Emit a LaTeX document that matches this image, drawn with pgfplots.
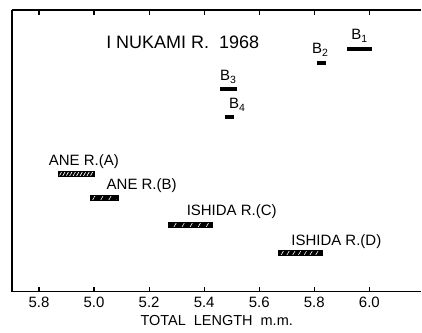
\documentclass[border=0pt]{standalone}
\usepackage{fontspec}
\setmainfont{Liberation Sans}
\usepackage{pgfplots}
\pgfplotsset{compat=1.18}
\usetikzlibrary{patterns.meta}
\begin{document}
\begin{tikzpicture}
\begin{axis}[
  scale only axis, width=410pt, height=282pt,
  xmin=4.702, xmax=6.189, ymin=0, ymax=282,
  axis x line=box, axis y line*=left,
  ytick=\empty,
  xtick={4.8,5.0,5.2,5.4,5.6,5.8,6.0},
  xticklabels={5.8,5.0,5.2,5.4,5.6,5.8,6.0},
  tick align=inside, major tick length=5pt,
  every tick/.style={black, line width=1.2pt},
  axis line style={line width=1.2pt},
  clip=false,
  /pgf/number format/assume math mode=true,
  xticklabel style={font=\fontsize{15}{17}\selectfont, yshift=-2pt},
  xlabel={TOTAL\ \ LENGTH\ \ m.m.},
  xlabel style={font=\fontsize{14.5}{16}\selectfont, yshift=-1pt},
]
% solid bars (B1-B4)
\addplot[fill=black, draw=none] coordinates {(5.92,241) (6.01,241) (6.01,245) (5.92,245)} -- cycle;
\addplot[fill=black, draw=none] coordinates {(5.808,227) (5.841,227) (5.841,231) (5.808,231)} -- cycle;
\addplot[fill=black, draw=none] coordinates {(5.456,201) (5.518,201) (5.518,205) (5.456,205)} -- cycle;
\addplot[fill=black, draw=none] coordinates {(5.474,173) (5.510,173) (5.510,177) (5.474,177)} -- cycle;
% hatched bars
\addplot[fill=black, draw=none] coordinates {(4.869,115) (5.003,115) (5.003,121) (4.869,121)} -- cycle;
\addplot[pattern={Lines[angle=60,distance=3pt,line width=0.7pt]}, pattern color=white, draw=none] coordinates {(4.875,116.5) (4.997,116.5) (4.997,119.5) (4.875,119.5)} -- cycle;
\addplot[fill=black, draw=none] coordinates {(4.985,91) (5.090,91) (5.090,97) (4.985,97)} -- cycle;
\addplot[pattern={Lines[angle=60,distance=7pt,line width=0.6pt]}, pattern color=white, draw=none] coordinates {(4.992,92.5) (5.083,92.5) (5.083,95.5) (4.992,95.5)} -- cycle;
\addplot[fill=black, draw=none] coordinates {(5.268,64) (5.431,64) (5.431,70) (5.268,70)} -- cycle;
\addplot[pattern={Lines[angle=60,distance=7pt,line width=0.6pt]}, pattern color=white, draw=none] coordinates {(5.275,65.5) (5.424,65.5) (5.424,68.5) (5.275,68.5)} -- cycle;
\addplot[fill=black, draw=none] coordinates {(5.667,36) (5.830,36) (5.830,42) (5.667,42)} -- cycle;
\addplot[pattern={Lines[angle=60,distance=5pt,line width=0.6pt]}, pattern color=white, draw=none] coordinates {(5.674,37.5) (5.823,37.5) (5.823,40.5) (5.674,40.5)} -- cycle;
% labels
\node[font=\fontsize{18}{20}\selectfont] at (axis cs:5.322,250) {I NUKAMI R.\ \ 1968};
\node[font=\fontsize{15}{17}\selectfont] at (axis cs:5.964,256) {B\textsubscript{1}};
\node[font=\fontsize{15}{17}\selectfont] at (axis cs:5.822,242) {B\textsubscript{2}};
\node[font=\fontsize{15}{17}\selectfont] at (axis cs:5.488,215) {B\textsubscript{3}};
\node[font=\fontsize{15}{17}\selectfont] at (axis cs:5.520,187) {B\textsubscript{4}};
\node[font=\fontsize{15}{17}\selectfont] at (axis cs:4.963,130) {ANE R.(A)};
\node[font=\fontsize{15}{17}\selectfont] at (axis cs:5.173,106) {ANE R.(B)};
\node[font=\fontsize{15}{17}\selectfont] at (axis cs:5.500,80) {ISHIDA R.(C)};
\node[font=\fontsize{15}{17}\selectfont] at (axis cs:5.880,50) {ISHIDA R.(D)};
\end{axis}
\path (current axis.south west) ++(-12pt,-41pt) coordinate (bl);
\path (current axis.north west) ++(-12pt,10pt) coordinate (tl);
\path[use as bounding box] (bl) rectangle (current axis.north east |- tl);
\end{tikzpicture}
\end{document}
